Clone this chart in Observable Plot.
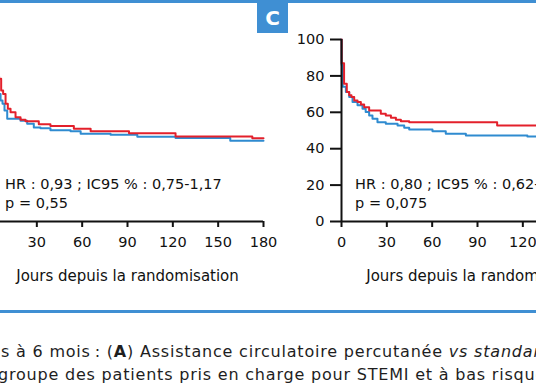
<!DOCTYPE html>
<html>
<head>
<meta charset="utf-8">
<script src="https://cdn.jsdelivr.net/npm/d3@7"></script>
<script src="https://cdn.jsdelivr.net/npm/@observablehq/plot@0.6"></script>
<style>
  html, body { margin: 0; padding: 0; background: #fff; }
  #wrap { position: relative; width: 536px; height: 386px; overflow: hidden; background: #fff; font-family: "DejaVu Sans", sans-serif; color: #222; }
  .panel { position: absolute; top: 0; }
  .panel svg { display: block; max-width: none !important; }
  .cap { position: absolute; white-space: nowrap; font-size: 16px; letter-spacing: 0.8px; color: #1e1e1e; }
</style>
</head>
<body>
<div id="wrap">
  <div style="position:absolute;left:0;top:0;width:536px;height:2.5px;background:#3f8fd3;"></div>
  <div id="left" class="panel" style="left:-59px;"></div>
  <div id="right" class="panel" style="left:291px;"></div>
  <div style="position:absolute;left:257px;top:3px;width:31px;height:30px;background:#3f8fd3;color:#fff;font-weight:bold;font-size:20px;line-height:30px;text-align:center;">C</div>
  <div style="position:absolute;left:0;top:310px;width:536px;height:2.5px;background:#3f8fd3;"></div>
  <div class="cap" style="left:1px;top:342px;">s à 6 mois&#8201;: (<b>A</b>) Assistance circulatoire percutanée <i>vs standard</i></div>
  <div class="cap" style="left:-2px;top:365px;">groupe des patients pris en charge pour STEMI et à bas risque</div>
</div>
<script>
// ---- Data ----
const xTickValues = [0, 30, 60, 90, 120, 150, 180];
const yTickValues = [0, 20, 40, 60, 80, 100];
const xAxisLabel = "Jours depuis la randomisation";

// Panel B (left, partially visible)
const leftRedDays   = [0, 0.3, 1, 3, 5, 6.4, 7.7, 9.3, 10.8, 12.6, 15.9, 19.2, 22.5, 31.3, 39, 54.5, 65.6, 91, 121.8, 172.6, 180];
const leftRedVals   = [100, 90, 84, 80, 78.5, 72, 70, 64.7, 62, 60, 57.3, 55.9, 55.1, 53.5, 52.5, 50.9, 49.6, 48.5, 46.7, 45.8, 45.8];
const leftBlueDays  = [0, 0.3, 1, 2, 4, 6, 7.3, 8.6, 10.4, 19.2, 23.6, 28, 32.4, 39, 52.3, 59, 78.8, 96.5, 121.8, 158, 180];
const leftBlueVals  = [100, 88, 80, 75, 70, 66.5, 64.7, 61, 56.4, 55.3, 53.7, 51.7, 51.2, 50.2, 49.6, 48.2, 47.6, 46.5, 45.9, 44.3, 44.3];
const leftStats = ["HR : 0,93 ; IC95 % : 0,75-1,17", "p = 0,55"];

// Panel C (right, partially visible)
const rightRedDays  = [0, 0.1, 1.7, 3.5, 5.1, 6.6, 8.4, 10.6, 12.8, 15, 18.3, 26, 29.3, 32.7, 36, 39.3, 44.8, 103, 180];
const rightRedVals  = [100, 87, 75.7, 71.1, 69.3, 68.4, 66.5, 65.6, 64.3, 62.8, 61, 59.2, 58.3, 57, 55.9, 55.1, 54.6, 52.8, 52.8];
const rightBlueDays = [0, 0.1, 0.8, 2.9, 5.1, 7.3, 10.6, 13.9, 16, 18.3, 20.5, 23.8, 29.3, 37.1, 41.5, 44.8, 60.2, 69, 82.3, 123, 180];
const rightBlueVals = [100, 86, 74, 71.1, 68.4, 65.6, 63.9, 62, 60.2, 58.3, 56.4, 54.6, 53.7, 52.8, 51.5, 50.5, 49.6, 48.2, 47.2, 46.7, 46.7];
const rightStats = ["HR : 0,80 ; IC95 % : 0,62-1,03", "p = 0,075"];

const RED = "#e3202b";
const BLUE = "#2f8bd0";
const FONT = "'DejaVu Sans', sans-serif";

function series(days, vals) { return days.map((d, i) => ({day: d, surv: vals[i]})); }

function panel(redDays, redVals, blueDays, blueVals, stats, xTicks, showY) {
  const marks = [
    Plot.line(series(blueDays, blueVals), {x: "day", y: "surv", stroke: BLUE, strokeWidth: 2, curve: "step-after"}),
    Plot.line(series(redDays, redVals), {x: "day", y: "surv", stroke: RED, strokeWidth: 2, curve: "step-after"}),
    Plot.ruleY([0], {x1: 0, x2: 180, stroke: "#111", strokeWidth: 2}),
    Plot.axisX({ticks: xTicks, tickSize: 6, tickPadding: 9, fontSize: 14.5, strokeWidth: 2, stroke: "#111", label: null, tickFormat: d => String(d)}),
    Plot.text([xAxisLabel], {frameAnchor: "bottom", dy: 55, fontSize: 15, fill: "#111", lineAnchor: "middle"}),
    Plot.text([stats.join("\n")], {x: 9, y: 25.5, textAnchor: "start", lineAnchor: "top", fontSize: 14.5, lineHeight: 1.33, fill: "#111"})
  ];
  if (showY) {
    marks.push(
      Plot.ruleX([0], {y1: 0, y2: 100, stroke: "#111", strokeWidth: 2}),
      Plot.axisY({ticks: yTickValues, tickSize: 11, tickPadding: 6, fontSize: 14.5, strokeWidth: 2, stroke: "#111", label: null, tickFormat: d => String(d)})
    );
  }
  return Plot.plot({
    width: 342, height: 291,
    marginLeft: 50, marginRight: 20, marginTop: 39, marginBottom: 70,
    style: {background: "transparent", overflow: "visible", fontFamily: FONT, color: "#111"},
    x: {domain: [0, 180]},
    y: showY ? {domain: [0, 100]} : {domain: [0, 100], axis: null},
    marks
  });
}

// Only the ticks that fall inside the visible crop are drawn
document.getElementById("left").appendChild(panel(leftRedDays, leftRedVals, leftBlueDays, leftBlueVals, leftStats, xTickValues.filter(d => d > 0), false));
document.getElementById("right").appendChild(panel(rightRedDays, rightRedVals, rightBlueDays, rightBlueVals, rightStats, xTickValues.filter(d => d <= 120), true));
</script>
</body>
</html>
